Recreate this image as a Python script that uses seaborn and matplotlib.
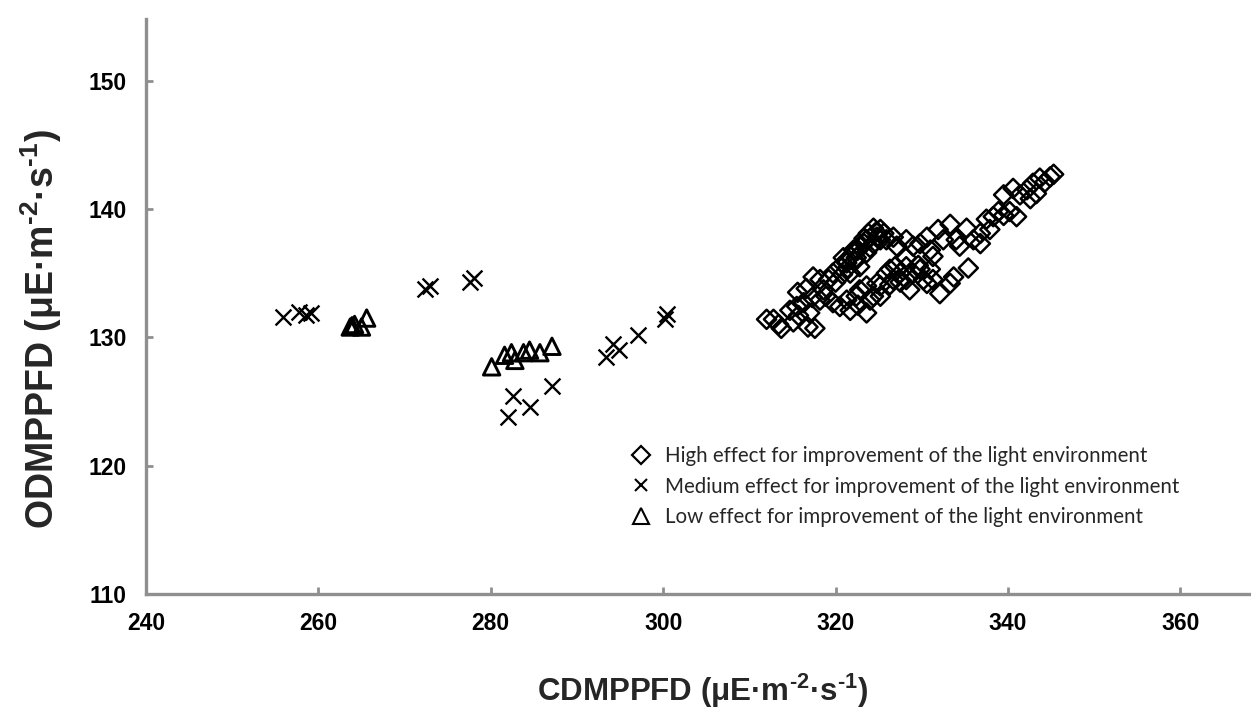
import matplotlib
matplotlib.use("Agg")
import matplotlib.pyplot as plt
from matplotlib.lines import Line2D
import seaborn as sns
import pandas as pd

# ---- data ----
high_x = [312.0, 312.8, 313.4, 313.7, 315.1, 315.7, 315.5, 316.3, 316.8, 317.6, 317.0,
          315.6, 316.6, 317.4, 318.2, 318.6, 319.2, 319.7, 320.5, 320.9, 321.7, 322.1,
          322.8, 323.6, 323.8, 324.4, 325.2, 324.8, 324.4, 323.6, 322.8, 321.7, 322.4,
          321.3, 325.2, 324.0, 323.3, 322.2, 320.0, 320.8,
          319.7, 320.5, 321.3, 321.7, 322.4, 322.8, 323.6, 323.6, 324.4, 324.8, 325.2,
          325.9, 326.3, 326.9, 327.5, 328.2, 328.2, 329.0, 329.8, 330.2, 330.6, 331.3,
          332.1, 333.3, 333.7, 335.4, 328.6, 328.2, 324.0, 326.3, 327.5, 322.6,
          325.9, 326.7, 327.1, 328.2, 329.0, 329.8, 330.6, 331.0, 331.3, 331.9, 332.5,
          333.3, 334.0, 334.4, 335.2, 336.0, 336.8, 336.8, 337.5, 337.9, 338.3, 338.9,
          339.5, 340.2, 341.0, 339.5, 340.6, 341.4, 342.2, 342.9, 343.7, 344.3, 344.9,
          345.3, 343.3, 342.6,
          314.7, 318.2, 318.9, 317.3, 322.6, 323.3, 324.7, 325.6, 321.4,
          325.2, 326.7, 329.6, 331.0]
high_y = [131.4, 131.4, 131.0, 130.7, 131.2, 131.7, 132.4, 132.7, 130.8, 130.7, 131.9,
          133.5, 133.8, 134.7, 134.5, 133.7, 134.5, 135.0, 135.5, 136.2, 136.3, 136.8,
          137.1, 137.6, 138.1, 138.5, 138.4, 137.8, 137.3, 136.6, 135.5, 135.0, 136.2,
          135.8, 137.6, 137.0, 137.7, 135.9, 134.3, 134.9,
          132.7, 132.4, 132.9, 132.1, 133.2, 133.7, 134.0, 131.9, 133.2, 134.2, 134.0,
          135.0, 135.3, 135.5, 135.0, 134.5, 135.5, 135.0, 135.3, 134.5, 134.2, 134.5,
          133.4, 134.2, 134.7, 135.4, 133.7, 136.2, 132.9, 134.1, 134.3, 132.5,
          137.6, 137.8, 137.1, 137.6, 137.1, 137.3, 137.8, 136.8, 136.3, 138.4, 137.6,
          138.8, 137.6, 137.1, 138.5, 137.6, 137.3, 138.1, 139.2, 138.4, 139.4, 139.8,
          139.5, 139.8, 139.4, 141.1, 141.6, 141.1, 141.5, 142.0, 142.4, 142.1, 142.5,
          142.7, 141.2, 140.8,
          132.1, 132.9, 133.2, 133.1, 136.8, 137.3, 138.2, 138.1, 135.4,
          133.2, 134.5, 135.6, 135.3]

medium_x = [255.9, 257.7, 258.6, 259.2, 272.4, 272.9, 277.6, 278.0, 282.6, 282.0,
            284.5, 287.1, 293.4, 294.2, 294.9, 297.1, 300.2, 300.5]
medium_y = [131.6, 132.0, 131.7, 131.9, 133.8, 134.0, 134.3, 134.6, 125.4, 123.8,
            124.6, 126.2, 128.5, 129.5, 129.0, 130.2, 131.4, 131.8]

low_x = [263.7, 263.9, 264.2, 265.0, 265.6, 280.1, 281.6, 282.4, 282.8, 283.8,
         284.5, 285.7, 287.1]
low_y = [130.8, 130.9, 131.0, 130.8, 131.5, 127.7, 128.6, 128.8, 128.2, 128.8,
         129.0, 128.8, 129.3]

labels = ["High effect for improvement of the light environment",
          "Medium effect for improvement of the light environment",
          "Low effect for improvement of the light environment"]
x_ticks = [240, 260, 280, 300, 320, 340, 360]
y_ticks = [110, 120, 130, 140, 150]

sns.set_theme(style="white")
plt.rcParams["font.family"] = ["Liberation Sans", "DejaVu Sans"]
plt.rcParams["mathtext.fontset"] = "custom"
plt.rcParams["mathtext.rm"] = "Liberation Sans:bold"
plt.rcParams["mathtext.bf"] = "Liberation Sans:bold"
plt.rcParams["mathtext.default"] = "bf"

fig = plt.figure(figsize=(12.51, 7.20), dpi=100)
ax = fig.add_axes([146 / 1251, 1 - 594 / 720, 1 - 146 / 1251, (594 - 19) / 720])

df_h = pd.DataFrame({"x": high_x, "y": high_y})
df_m = pd.DataFrame({"x": medium_x, "y": medium_y})
df_l = pd.DataFrame({"x": low_x, "y": low_y})

sns.scatterplot(data=df_h, x="x", y="y", marker="D", s=95, facecolor="none",
                edgecolor="black", linewidth=1.8, ax=ax, zorder=3)
sns.scatterplot(data=df_m, x="x", y="y", marker="x", s=130, color="black",
                linewidth=1.7, ax=ax, zorder=3)
sns.scatterplot(data=df_l, x="x", y="y", marker="^", s=140, facecolor="none",
                edgecolor="black", linewidth=2.1, ax=ax, zorder=3)

ax.set_xlim(240, 368.2)
ax.set_ylim(110, 154.8)
ax.set_xticks(x_ticks)
ax.set_yticks(y_ticks)
ax.set_xticklabels([str(v) for v in x_ticks])
ax.set_yticklabels([str(v) for v in y_ticks])

for side in ["top", "right"]:
    ax.spines[side].set_visible(False)
for side in ["left", "bottom"]:
    ax.spines[side].set_color("#8f8f8f")
    ax.spines[side].set_linewidth(2.4)
ax.tick_params(axis="both", direction="in", length=5, width=2, color="#8f8f8f",
               labelsize=16.5, labelcolor="black")
ax.tick_params(axis="x", pad=13, bottom=True)
ax.tick_params(axis="y", pad=14, left=True)
for lab in ax.get_xticklabels() + ax.get_yticklabels():
    lab.set_fontweight("bold")

unit = r"(μE·m$^{\text{-2}}$·s$^{\text{-1}}$)"
ax.set_xlabel("CDMPPFD " + unit, fontsize=22.5, fontweight="bold")
ax.set_ylabel("ODMPPFD " + unit, fontsize=27, fontweight="bold")
ax.xaxis.set_label_coords((703 - 146) / 1105, -(691 - 594) / 575)
ax.xaxis.label.set_va("center")
ax.yaxis.set_label_coords((41 - 146) / 1105, (594 - 329) / 575)
ax.yaxis.label.set_va("center")

handles = [
    Line2D([], [], marker="D", linestyle="none", markersize=9.5, markerfacecolor="none",
           markeredgecolor="black", markeredgewidth=1.6),
    Line2D([], [], marker="x", linestyle="none", markersize=8, color="black",
           markeredgewidth=1.5),
    Line2D([], [], marker="^", linestyle="none", markersize=11.5, markerfacecolor="none",
           markeredgecolor="black", markeredgewidth=1.5),
]
fig.legend(handles, labels, loc="upper left", bbox_to_anchor=(631 / 1251, 1 - 446 / 720),
           frameon=False, prop={"family": "Lato", "size": 14.8}, handlelength=1.0,
           handletextpad=0.65, labelspacing=0.52, borderpad=0, borderaxespad=0)

fig.savefig("out.png", dpi=100, facecolor="white")
